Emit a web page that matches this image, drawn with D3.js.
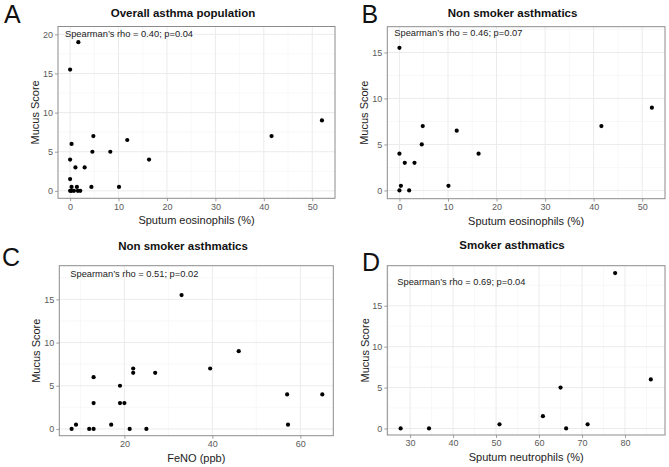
<!DOCTYPE html>
<html>
<head>
<meta charset="utf-8">
<script src="https://cdn.jsdelivr.net/npm/d3@7"></script>
<style>
  html, body { margin: 0; padding: 0; background: #fff; }
  svg { display: block; font-family: "Liberation Sans", Arial, Helvetica, sans-serif; }
</style>
</head>
<body>
<svg id="chart" width="669" height="467"></svg>
<script>
// ---- Data ----
// Panel A: overall asthma population (sputum eosinophils %, mucus score)
const aEos   = [1.7, 0, 4.8, 11.8, 0.3, 4.6, 8.3, 16.3, 0, 1.1, 3, 0, 0.3, 1.4, 4.4, 10.1, 0, 0.3, 0.8, 1.6, 2.1, 41.6, 52];
const aMucus = [19, 15.5, 7, 6.5, 6, 5, 5, 4, 4, 3, 3, 1.5, 0.5, 0.5, 0.5, 0.5, 0, 0, 0, 0, 0, 7, 9];
// Panel B: non smoker asthmatics (sputum eosinophils %, mucus score)
const bEos   = [0, 0, 4.8, 11.8, 4.6, 16.3, 1.1, 3.1, 0.3, 10.1, 0, 2, 41.6, 52];
const bMucus = [15.5, 4, 7, 6.5, 5, 4, 3, 3, 0.5, 0.5, 0, 0, 7, 9];
// Panel C: non smoker asthmatics (FeNO ppb, mucus score)
const cFeno  = [33, 46, 39.5, 27, 22, 22, 13, 19, 13, 19, 20, 57, 65, 57.2, 8, 9, 12, 13, 17, 21.2, 25];
const cMucus = [15.5, 9, 7, 6.5, 7, 6.5, 6, 5, 3, 3, 3, 4, 4, 0.5, 0, 0.5, 0, 0, 0.5, 0, 0];
// Panel D: smoker asthmatics (sputum neutrophils %, mucus score)
const dNeut  = [27.8, 34.4, 50.8, 60.9, 65, 66.3, 71.3, 77.7, 86];
const dMucus = [0, 0, 0.5, 1.5, 5, 0, 0.5, 19, 6];

// Titles, labels, annotations
const panelLetters = ["A", "B", "C", "D"];
const panelTitles  = ["Overall asthma population", "Non smoker asthmatics", "Non smoker asthmatics", "Smoker asthmatics"];
const xTitles      = ["Sputum eosinophils (%)", "Sputum eosinophils (%)", "FeNO (ppb)", "Sputum neutrophils (%)"];
const yTitle       = "Mucus Score";
const annotations  = ["Spearman\u2019s rho = 0.40; p=0.04", "Spearman\u2019s rho = 0.46; p=0.07",
                      "Spearman\u2019s rho = 0.51; p=0.02", "Spearman\u2019s rho = 0.69; p=0.04"];

// Axis ticks and limits
const xTicksA = [0, 10, 20, 30, 40, 50], xMinorA = [5, 15, 25, 35, 45];
const xTicksC = [20, 40, 60],            xMinorC = [10, 30, 50];
const xTicksD = [30, 40, 50, 60, 70, 80], xMinorD = [25, 35, 45, 55, 65, 75, 85];
const yTicks20 = [0, 5, 10, 15, 20], yTicks15 = [0, 5, 10, 15];
const yMinor   = [2.5, 7.5, 12.5, 17.5];
const xLimA = [-2.5, 54.7], yLimA = [-0.95, 21.0];
const xLimB = [-2.5, 54.7], yLimB = [-0.9, 17.8];
const xLimC = [5.2, 67.5],  yLimC = [-0.78, 18.9];
const xLimD = [24.7, 89.3], yLimD = [-0.8, 19.9];

// ---- Layout ----
const panels = [
  { x: aEos,  y: aMucus, xLim: xLimA, yLim: yLimA, xt: xTicksA, xm: xMinorA, yt: yTicks20,
    box: { l: 58, r: 335, t: 26.5, b: 198.3 }, letter: { x: 4, y: 23 }, title: { x: 183, y: 17.3 },
    ann: { dx: 7, dy: 10.5 }, yTitleOff: 23 },
  { x: bEos,  y: bMucus, xLim: xLimB, yLim: yLimB, xt: xTicksA, xm: xMinorA, yt: yTicks15,
    box: { l: 387.3, r: 665, t: 26.7, b: 198.7 }, letter: { x: 361.5, y: 23 }, title: { x: 512.5, y: 17.3 },
    ann: { dx: 7, dy: 9.5 }, yTitleOff: 23 },
  { x: cFeno, y: cMucus, xLim: xLimC, yLim: yLimC, xt: xTicksC, xm: xMinorC, yt: yTicks15,
    box: { l: 59.3, r: 333.3, t: 265.7, b: 435.7 }, letter: { x: 2, y: 265.5 }, title: { x: 183, y: 249.7 },
    ann: { dx: 11, dy: 11.6 }, yTitleOff: 23 },
  { x: dNeut, y: dMucus, xLim: xLimD, yLim: yLimD, xt: xTicksD, xm: xMinorD, yt: yTicks15,
    box: { l: 387.3, r: 665, t: 265.7, b: 435 }, letter: { x: 362, y: 270.5 }, title: { x: 512, y: 249 },
    ann: { dx: 10, dy: 19.3 }, yTitleOff: 22 }
];

const svg = d3.select("#chart");

panels.forEach((p, i) => {
  const b = p.box;
  const xs = d3.scaleLinear().domain(p.xLim).range([b.l, b.r]);
  const ys = d3.scaleLinear().domain(p.yLim).range([b.b, b.t]);
  const g = svg.append("g");

  // background
  g.append("rect").attr("x", b.l).attr("y", b.t).attr("width", b.r - b.l).attr("height", b.b - b.t)
    .attr("fill", "#fff");

  // minor grid
  const yMin = yMinor.filter(v => v > p.yLim[0] && v < p.yLim[1]);
  const xMin = p.xm.filter(v => v > p.xLim[0] && v < p.xLim[1]);
  g.selectAll(".gxm").data(xMin).enter().append("line")
    .attr("x1", d => xs(d)).attr("x2", d => xs(d)).attr("y1", b.t).attr("y2", b.b)
    .attr("stroke", "#f3f3f3").attr("stroke-width", 0.6);
  g.selectAll(".gym").data(yMin).enter().append("line")
    .attr("y1", d => ys(d)).attr("y2", d => ys(d)).attr("x1", b.l).attr("x2", b.r)
    .attr("stroke", "#f3f3f3").attr("stroke-width", 0.6);
  // major grid
  g.selectAll(".gx").data(p.xt).enter().append("line")
    .attr("x1", d => xs(d)).attr("x2", d => xs(d)).attr("y1", b.t).attr("y2", b.b)
    .attr("stroke", "#ebebeb").attr("stroke-width", 1);
  g.selectAll(".gy").data(p.yt).enter().append("line")
    .attr("y1", d => ys(d)).attr("y2", d => ys(d)).attr("x1", b.l).attr("x2", b.r)
    .attr("stroke", "#ebebeb").attr("stroke-width", 1);

  // axes
  const xAxis = d3.axisBottom(xs).tickValues(p.xt).tickSize(3).tickPadding(2).tickFormat(d3.format("d"));
  const yAxis = d3.axisLeft(ys).tickValues(p.yt).tickSize(3).tickPadding(2).tickFormat(d3.format("d"));
  const gx = g.append("g").attr("transform", `translate(0,${b.b})`).call(xAxis);
  const gy = g.append("g").attr("transform", `translate(${b.l},0)`).call(yAxis);
  [gx, gy].forEach(ax => {
    ax.select(".domain").remove();
    ax.selectAll(".tick line").attr("stroke", "#888").attr("stroke-width", 0.8);
    ax.selectAll(".tick text").attr("fill", "#5a5a5a").attr("font-size", "9px")
      .attr("font-family", "'Liberation Sans', Arial, sans-serif");
  });

  // border
  g.append("rect").attr("x", b.l).attr("y", b.t).attr("width", b.r - b.l).attr("height", b.b - b.t)
    .attr("fill", "none").attr("stroke", "#8c8c8c").attr("stroke-width", 1);

  // points
  const pts = p.x.map((v, k) => ({ x: v, y: p.y[k] }));
  g.selectAll(".pt").data(pts).enter().append("circle")
    .attr("cx", d => xs(d.x)).attr("cy", d => ys(d.y)).attr("r", 2.1).attr("fill", "#000");

  // annotation
  g.append("text").attr("x", b.l + p.ann.dx).attr("y", b.t + p.ann.dy)
    .attr("font-size", "9.3px").attr("fill", "#222").text(annotations[i]);

  // title
  g.append("text").attr("x", p.title.x).attr("y", p.title.y).attr("text-anchor", "middle")
    .attr("font-size", "11.5px").attr("font-weight", "bold").attr("fill", "#111").text(panelTitles[i]);

  // axis titles
  g.append("text").attr("x", (b.l + b.r) / 2).attr("y", b.b + 26).attr("text-anchor", "middle")
    .attr("font-size", "11px").attr("fill", "#222").text(xTitles[i]);
  g.append("text").attr("transform", `translate(${b.l - p.yTitleOff},${(b.t + b.b) / 2}) rotate(-90)`)
    .attr("text-anchor", "middle").attr("dy", "0.35em")
    .attr("font-size", "11px").attr("fill", "#222").text(yTitle);

  // panel letter
  g.append("text").attr("x", p.letter.x).attr("y", p.letter.y)
    .attr("font-size", "25px").attr("fill", "#111").text(panelLetters[i]);
});
</script>
</body>
</html>
